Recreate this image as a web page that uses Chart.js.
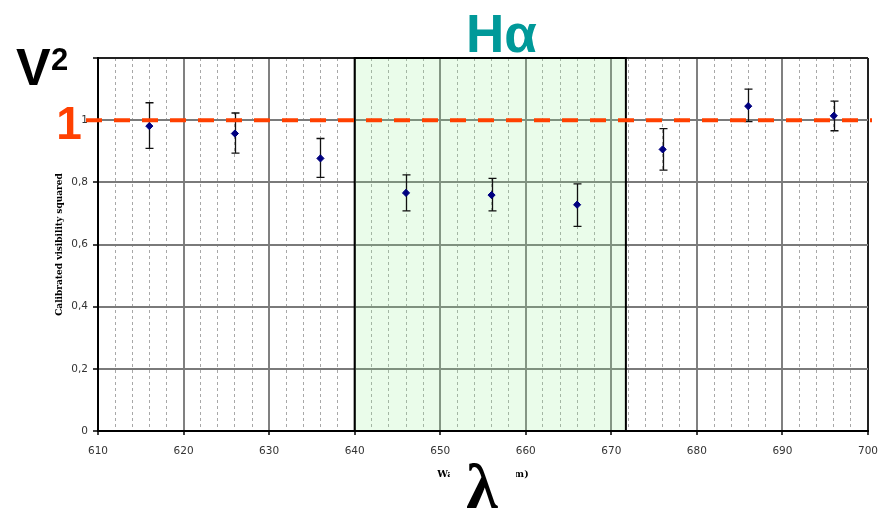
<!DOCTYPE html>
<html>
<head>
<meta charset="utf-8">
<script src="https://cdn.jsdelivr.net/npm/chart.js@4.4.1/dist/chart.umd.min.js"></script>
<style>
  html, body { margin: 0; padding: 0; background: #fff; }
  #wrap { width: 883px; height: 512px; }
</style>
</head>
<body>
<div id="wrap"><canvas id="c" width="883" height="512"></canvas></div>
<script>
// Calibrated squared visibility per spectral channel (nm)
const wavelengths = [616, 626, 636, 646, 656, 666, 676, 686, 696];
const v2 = [0.981, 0.957, 0.877, 0.766, 0.759, 0.728, 0.906, 1.045, 1.014];
const errUp = [0.075, 0.066, 0.064, 0.058, 0.054, 0.067, 0.067, 0.055, 0.047];
const errDown = [0.072, 0.063, 0.061, 0.058, 0.051, 0.070, 0.067, 0.050, 0.048];

// H-alpha band limits (nm) and unit-visibility reference level
const halphaBand = [640, 671.7];
const refLevel = 1;

// Axis ranges
const xRange = [610, 700];
const yRange = [0, 1.2];

const points = wavelengths.map((w, i) => ({ x: w, y: v2[i] }));

const isMajorX = v => Math.abs(v % 10) < 1e-6;

const overlay = {
  id: 'overlay',
  beforeDatasetsDraw(chart) {
    const { ctx, chartArea: a, scales: { x, y } } = chart;
    // H-alpha band, tinted over the grid
    const bx0 = x.getPixelForValue(halphaBand[0]);
    const bx1 = x.getPixelForValue(halphaBand[1]);
    ctx.save();
    ctx.fillStyle = 'rgba(150, 240, 150, 0.2)';
    ctx.fillRect(bx0, a.top, bx1 - bx0, a.bottom - a.top);
    ctx.strokeStyle = '#000';
    ctx.lineWidth = 2;
    ctx.strokeRect(bx0, a.top, bx1 - bx0, a.bottom - a.top);

    // error bars
    ctx.strokeStyle = '#111';
    ctx.lineWidth = 1.3;
    wavelengths.forEach((w, i) => {
      const px = Math.round(x.getPixelForValue(w)) + 0.5;
      const yt = y.getPixelForValue(v2[i] + errUp[i]);
      const yb = y.getPixelForValue(v2[i] - errDown[i]);
      ctx.beginPath();
      ctx.moveTo(px, yt); ctx.lineTo(px, yb);
      ctx.moveTo(px - 4, yt); ctx.lineTo(px + 4, yt);
      ctx.moveTo(px - 4, yb); ctx.lineTo(px + 4, yb);
      ctx.stroke();
    });
    ctx.restore();
  },
  afterDatasetsDraw(chart) {
    const { ctx, chartArea: a, scales: { x, y } } = chart;
    ctx.save();
    // dashed reference line at V^2 = 1
    const yr = y.getPixelForValue(refLevel);
    ctx.strokeStyle = '#ff4000';
    ctx.lineWidth = 4;
    ctx.setLineDash([16, 12]);
    ctx.lineDashOffset = 0;
    ctx.beginPath();
    ctx.moveTo(a.left - 12, yr);
    ctx.lineTo(a.right + 4, yr);
    ctx.stroke();
    ctx.setLineDash([]);

    // big "1" label at the reference level
    ctx.fillStyle = '#ff4000';
    ctx.font = 'bold 46px "Liberation Sans", Arial, sans-serif';
    ctx.textAlign = 'center';
    ctx.textBaseline = 'alphabetic';
    ctx.fillText('1', a.left - 29, yr + 19);

    // V² header
    ctx.fillStyle = '#000';
    ctx.textAlign = 'left';
    ctx.font = 'bold 52px "Liberation Sans", Arial, sans-serif';
    ctx.fillText('V', 16, 85);
    ctx.font = 'bold 31px "Liberation Sans", Arial, sans-serif';
    ctx.fillText('2', 51, 70);

    // H-alpha label
    ctx.fillStyle = '#009999';
    ctx.font = 'bold 53px "Liberation Sans", Arial, sans-serif';
    ctx.fillText('H\u03b1', 466, 52);

    // lambda symbol over the axis title
    const cx = (a.left + a.right) / 2;
    ctx.fillStyle = '#fff';
    ctx.fillRect(cx - 33, 462, 66, 50);
    ctx.fillStyle = '#000';
    ctx.textAlign = 'center';
    ctx.font = 'bold 64px "Liberation Serif", "Times New Roman", serif';
    ctx.fillText('\u03bb', cx - 1, 508);
    ctx.restore();
  }
};

new Chart(document.getElementById('c'), {
  type: 'scatter',
  data: {
    datasets: [{
      data: points,
      pointStyle: 'rectRot',
      pointRadius: 3.6,
      backgroundColor: '#000080',
      borderColor: '#000080',
      borderWidth: 1
    }]
  },
  options: {
    responsive: false,
    animation: false,
    devicePixelRatio: 1,
    layout: { padding: { left: 0, right: 15, top: 58, bottom: 0 } },
    plugins: { legend: { display: false }, tooltip: { enabled: false } },
    scales: {
      x: {
        type: 'linear',
        min: xRange[0], max: xRange[1],
        afterFit: s => { s.height = 81; s.paddingRight = 0; s.paddingLeft = 0; },
        ticks: {
          stepSize: 2,
          autoSkip: false,
          maxRotation: 0,
          padding: 10,
          color: '#333',
          font: { family: '"DejaVu Sans", Verdana, sans-serif', size: 10.5 },
          callback: v => isMajorX(v) ? String(v) : ''
        },
        grid: {
          color: c => {
            const v = c.tick ? c.tick.value : 0;
            if (v === xRange[1]) return '#222';
            return isMajorX(v) ? '#808080' : '#a8a8a8';
          },
          lineWidth: c => (c.tick && isMajorX(c.tick.value)) ? 2 : 1,
          tickLength: 4,
          tickColor: c => (c.tick && isMajorX(c.tick.value)) ? '#000' : 'rgba(0,0,0,0)',
          tickWidth: 1.5
        },
        border: {
          color: '#000',
          width: 2,
          dash: c => (c.tick && !isMajorX(c.tick.value)) ? [3, 3] : []
        },
        title: {
          display: true,
          text: 'Wavelength (nm)',
          color: '#000',
          font: { family: '"DejaVu Serif", serif', size: 9.5, weight: 'bold' },
          padding: { top: 0, bottom: 32 }
        }
      },
      y: {
        min: yRange[0], max: yRange[1],
        afterFit: s => { s.width = 98; },
        ticks: {
          stepSize: 0.2,
          padding: 5,
          color: '#333',
          font: { family: '"DejaVu Sans", Verdana, sans-serif', size: 10.5 },
          callback: v => {
            const r = Math.round(v * 10) / 10;
            return r > 1.1 ? '' : String(r).replace('.', ',');
          }
        },
        grid: {
          color: c => (c.tick && c.tick.value > 1.1) ? '#222' : '#7a7a7a',
          lineWidth: 2,
          tickLength: 5,
          tickColor: '#000',
          tickWidth: 1.5
        },
        border: { color: '#000', width: 2 },
        title: {
          display: true,
          text: 'Calibrated visibility squared',
          color: '#000',
          font: { family: '"DejaVu Serif", serif', size: 9, weight: 'bold' },
          padding: { top: 54, bottom: 0 }
        }
      }
    }
  },
  plugins: [overlay]
});
</script>
</body>
</html>
